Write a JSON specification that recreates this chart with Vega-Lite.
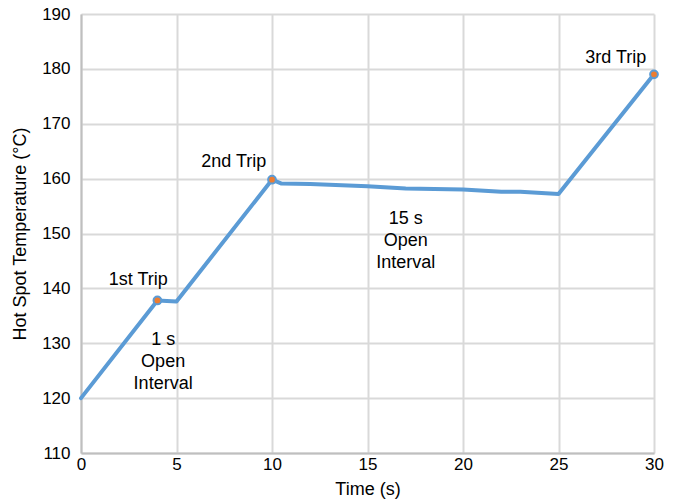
{
  "$schema": "https://vega.github.io/schema/vega-lite/v6.json",
  "width": 573,
  "height": 439,
  "autosize": "none",
  "padding": {"left": 81, "top": 14, "right": 19, "bottom": 50},
  "config": {
    "font": "Liberation Sans",
    "view": {"stroke": null},
    "axis": {
      "labelFont": "Liberation Sans",
      "titleFont": "Liberation Sans",
      "labelFontSize": 17,
      "titleFontSize": 18,
      "labelColor": "#000000",
      "titleColor": "#000000",
      "titleFontWeight": "normal",
      "domainColor": "#bfbfbf",
      "domainWidth": 2,
      "gridColor": "#d9d9d9",
      "gridWidth": 2,
      "ticks": false,
      "labelFlush": false
    }
  },
  "datasets": {
    "curve": [
      {"t": 0, "temp": 120},
      {"t": 4, "temp": 137.8},
      {"t": 5, "temp": 137.6},
      {"t": 10, "temp": 159.8},
      {"t": 10.5, "temp": 159.1},
      {"t": 12, "temp": 159.0},
      {"t": 15, "temp": 158.6},
      {"t": 17, "temp": 158.2},
      {"t": 20, "temp": 158.0},
      {"t": 22, "temp": 157.6},
      {"t": 23, "temp": 157.6},
      {"t": 25, "temp": 157.2},
      {"t": 30, "temp": 179}
    ],
    "trips": [
      {"t": 4, "temp": 137.8, "label": "1st Trip", "lx": 3, "ly": 141.5},
      {"t": 10, "temp": 159.8, "label": "2nd Trip", "lx": 8, "ly": 163},
      {"t": 30, "temp": 179, "label": "3rd Trip", "lx": 28, "ly": 182}
    ],
    "notes": [
      {"lx": 4.3, "ly": 130.6, "text": ["1 s", "Open", "Interval"]},
      {"lx": 17, "ly": 152.6, "text": ["15 s", "Open", "Interval"]}
    ]
  },
  "layer": [
    {
      "data": {"name": "curve"},
      "mark": {"type": "line", "color": "#5b9bd5", "strokeWidth": 4, "strokeJoin": "round", "strokeCap": "round"},
      "encoding": {
        "x": {
          "field": "t", "type": "quantitative",
          "scale": {"domain": [0, 30], "nice": false},
          "axis": {"title": "Time (s)", "values": [0, 5, 10, 15, 20, 25, 30], "labelPadding": 3, "titlePadding": 8}
        },
        "y": {
          "field": "temp", "type": "quantitative",
          "scale": {"domain": [110, 190], "nice": false, "zero": false},
          "axis": {"title": "Hot Spot Temperature (°C)", "values": [110, 120, 130, 140, 150, 160, 170, 180, 190], "labelPadding": 11, "titlePadding": 12}
        }
      }
    },
    {
      "data": {"name": "trips"},
      "mark": {"type": "point", "filled": true, "color": "#ed7d31", "stroke": "#5b9bd5", "strokeWidth": 2, "size": 60, "opacity": 1},
      "encoding": {
        "x": {"field": "t", "type": "quantitative"},
        "y": {"field": "temp", "type": "quantitative"}
      }
    },
    {
      "data": {"name": "trips"},
      "mark": {"type": "text", "fontSize": 18, "color": "#000000", "align": "center", "baseline": "middle"},
      "encoding": {
        "x": {"field": "lx", "type": "quantitative"},
        "y": {"field": "ly", "type": "quantitative"},
        "text": {"field": "label"}
      }
    },
    {
      "data": {"name": "notes"},
      "mark": {"type": "text", "fontSize": 18, "color": "#000000", "align": "center", "baseline": "middle", "lineHeight": 22},
      "encoding": {
        "x": {"field": "lx", "type": "quantitative"},
        "y": {"field": "ly", "type": "quantitative"},
        "text": {"field": "text"}
      }
    }
  ]
}
